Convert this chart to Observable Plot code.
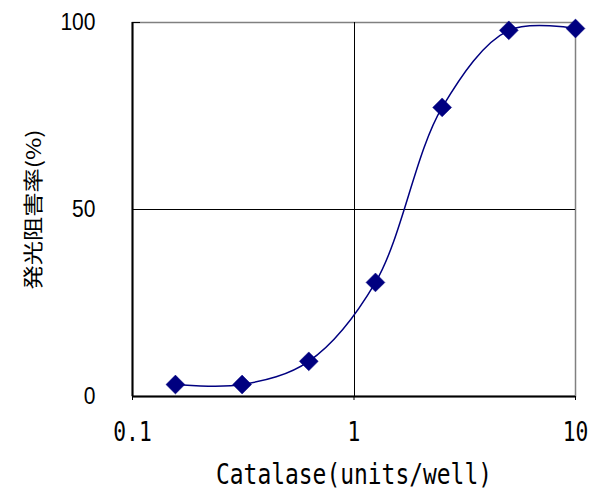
<!DOCTYPE html>
<html>
<head>
<meta charset="utf-8">
<script src="https://cdn.jsdelivr.net/npm/d3@7"></script>
<script src="https://cdn.jsdelivr.net/npm/@observablehq/plot@0.6"></script>
<style>
  html, body { margin: 0; padding: 0; background: white; }
</style>
</head>
<body>
<div id="chart"></div>
<script>
const catalase = [0.15625, 0.3125, 0.625, 1.25, 2.5, 5, 10];
const inhibition = [3.2, 3.2, 9.4, 30.5, 77.3, 97.9, 98.4];
const xTicks = [0.1, 1, 10];
const xTickLabels = ["0.1", "1", "10"];
const yTicks = [0, 50, 100];
const xLabel = "Catalase(units/well)";
const yLabel = "発光阻害率(%)";

const data = catalase.map((c, i) => ({x: c, y: inhibition[i]}));
const navy = "#000080";
const mono = "'DejaVu Sans Mono', monospace";
const sans = "'Liberation Sans', Arial, sans-serif";
const cjk = "'Noto Sans CJK JP', sans-serif";

const svg = Plot.plot({
  width: 594,
  height: 490,
  marginLeft: 132,
  marginRight: 19,
  marginTop: 22,
  marginBottom: 94,
  style: {background: "white", color: "black"},
  x: {type: "log", domain: [0.1, 10]},
  y: {domain: [0, 100]},
  marks: [
    Plot.frame({stroke: "#808080", strokeWidth: 1.5}),
    Plot.ruleX([1], {stroke: "black", strokeWidth: 1, shapeRendering: "crispEdges"}),
    Plot.ruleY([50], {stroke: "black", strokeWidth: 1, shapeRendering: "crispEdges"}),
    Plot.ruleX([0.1], {stroke: "black", strokeWidth: 2}),
    Plot.ruleY([0], {stroke: "black", strokeWidth: 2}),
    Plot.axisX({
      ticks: xTicks,
      tickSize: 4,
      tickPadding: 22,
      tickFormat: d => xTickLabels[xTicks.indexOf(d)],
      label: xLabel,
      labelArrow: "none",
      labelAnchor: "center",
      labelOffset: 87
    }),
    Plot.axisY({
      ticks: yTicks,
      tickSize: 0,
      tickPadding: 37,
      label: null
    }),
    Plot.axisY({
      ticks: yTicks,
      tickSize: 8,
      dx: 8,
      tickFormat: () => "",
      label: yLabel,
      labelArrow: "none",
      labelAnchor: "center",
      labelOffset: 106
    }),
    Plot.line(data, {x: "x", y: "y", curve: "catmull-rom", stroke: navy, strokeWidth: 1.5}),
    Plot.dot(data, {x: "x", y: "y", symbol: "diamond2", r: 8.5, fill: navy, stroke: navy, strokeWidth: 0.5})
  ]
});

const s = d3.select(svg);
s.selectAll("text").each(function() {
  const t = this.textContent;
  const sel = d3.select(this);
  if (t.startsWith("Catalase")) {
    sel.text(xLabel).style("font-family", mono).style("font-size", "28px")
      .attr("textLength", 276).attr("lengthAdjust", "spacingAndGlyphs");
  } else if (t.startsWith("発光")) {
    sel.text(yLabel).style("font-family", cjk).style("font-size", "20px")
      .attr("textLength", 160).attr("lengthAdjust", "spacingAndGlyphs");
  } else if (xTickLabels.includes(t)) {
    sel.style("font-family", mono).style("font-size", "26px")
      .attr("textLength", 12.8 * t.length).attr("lengthAdjust", "spacingAndGlyphs");
  } else if (t === "100" || t === "50" || t === "0") {
    sel.style("font-family", sans).style("font-size", "23px")
      .attr("textLength", 11.7 * t.length).attr("lengthAdjust", "spacingAndGlyphs");
  }
});

document.getElementById("chart").appendChild(svg);
</script>
</body>
</html>
